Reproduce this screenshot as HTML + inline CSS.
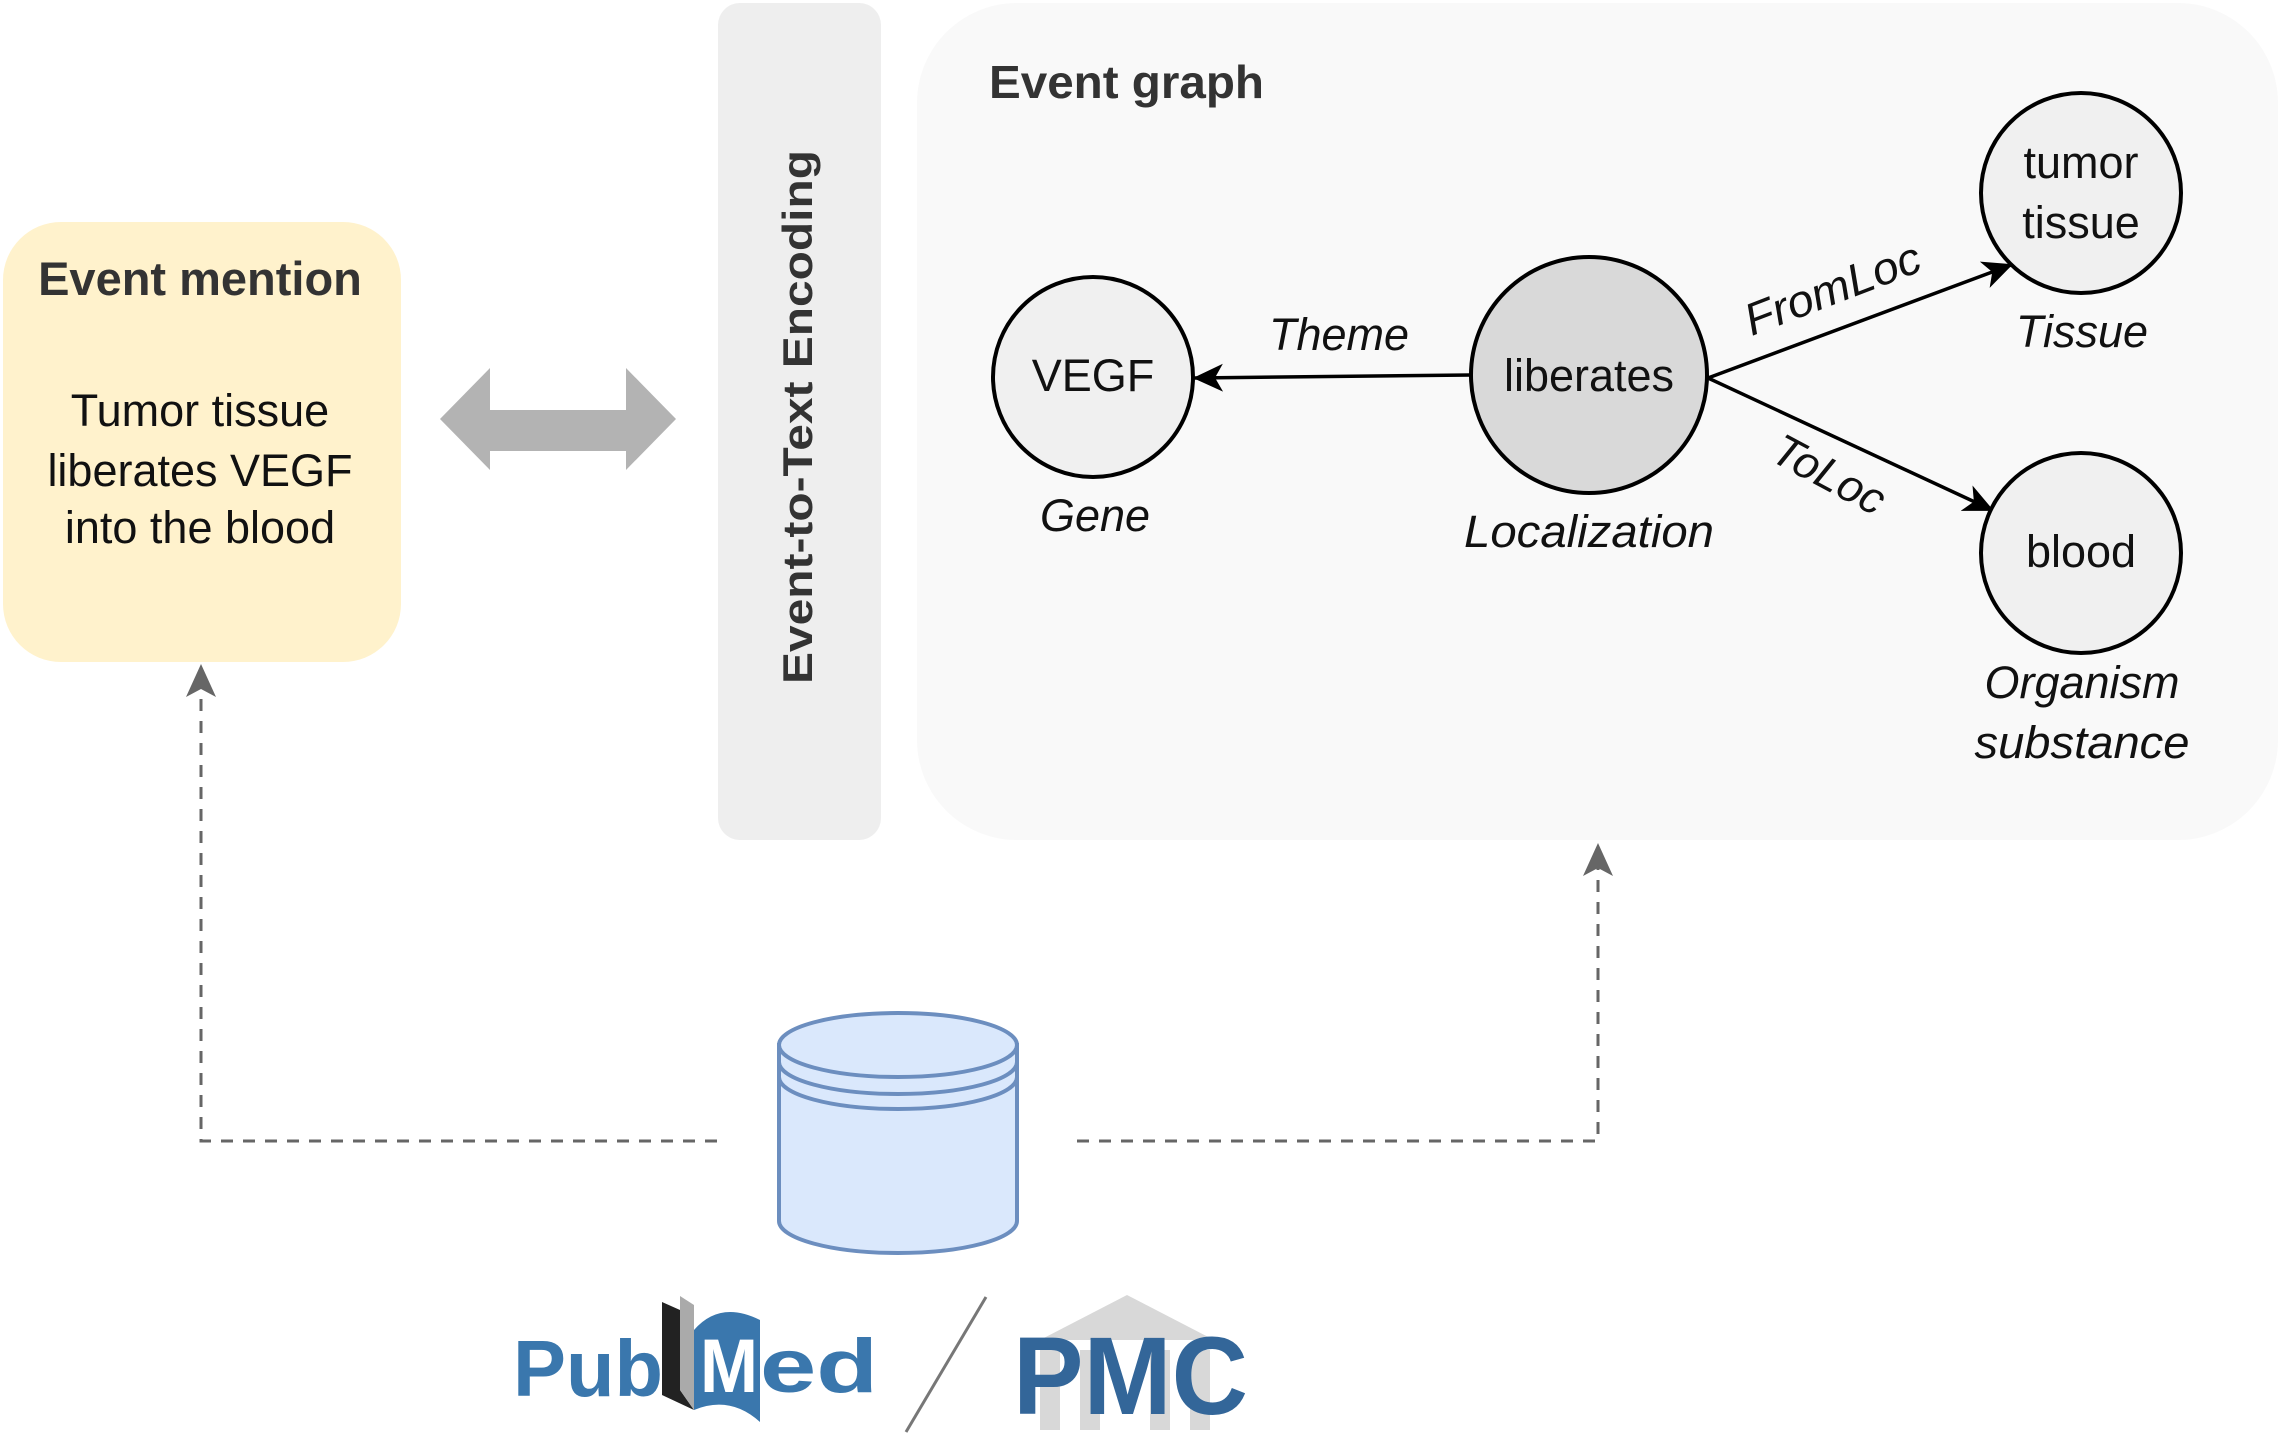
<!DOCTYPE html>
<html><head><meta charset="utf-8"><style>html,body{margin:0;padding:0;background:#fff}svg{display:block}</style></head>
<body>
<svg width="2280" height="1444" viewBox="0 0 2280 1444" xmlns="http://www.w3.org/2000/svg" font-family="Liberation Sans, Arial, sans-serif">
<defs>
<marker id="ah" markerWidth="30" markerHeight="28" refX="28" refY="14" orient="auto" markerUnits="userSpaceOnUse" viewBox="0 0 30 28"><path d="M0,0 L30,14 L0,28 L8,14 Z" fill="#000"/></marker>
</defs>
<rect x="3" y="222" width="398" height="440" rx="58" fill="#fff2cc"/>
<text x="200" y="295" font-size="47" font-weight="bold" fill="#333" text-anchor="middle">Event mention</text>
<text font-size="45" fill="#111" text-anchor="middle"><tspan x="200" y="426">Tumor tissue</tspan><tspan x="200" y="486">liberates VEGF</tspan><tspan x="200" y="543">into the blood</tspan></text>
<polygon points="440,419 490,368 490,410 626,410 626,368 676,419 626,470 626,451 490,451 490,470" fill="#b3b3b3"/>
<rect x="718" y="3" width="163" height="837" rx="22" fill="#eeeeee"/>
<text transform="translate(812,417) rotate(-90)" font-size="42" font-weight="bold" fill="#333" text-anchor="middle" textLength="534" lengthAdjust="spacingAndGlyphs">Event-to-Text Encoding</text>
<rect x="917" y="3" width="1361" height="837" rx="100" fill="#f9f9f9"/>
<text x="989" y="98" font-size="46" font-weight="bold" fill="#333" textLength="275" lengthAdjust="spacingAndGlyphs">Event graph</text>
<g stroke="#000" stroke-width="3.5" fill="none">
<line x1="1471" y1="375" x2="1195" y2="378" marker-end="url(#ah)"/>
<line x1="1708" y1="378" x2="2011" y2="265" marker-end="url(#ah)"/>
<line x1="1708" y1="378" x2="1992" y2="510" marker-end="url(#ah)"/>
</g>
<circle cx="1093" cy="377" r="100" fill="#f0f0f0" stroke="#000" stroke-width="4"/>
<circle cx="1589" cy="375" r="118" fill="#d9d9d9" stroke="#000" stroke-width="4"/>
<circle cx="2081" cy="193" r="100" fill="#f0f0f0" stroke="#000" stroke-width="4"/>
<circle cx="2081" cy="553" r="100" fill="#f0f0f0" stroke="#000" stroke-width="4"/>
<g font-size="45" fill="#111" text-anchor="middle">
<text x="1093" y="391">VEGF</text>
<text x="1589" y="391">liberates</text>
<text x="2081" y="178">tumor</text>
<text x="2081" y="238">tissue</text>
<text x="2081" y="567">blood</text>
</g>
<g font-size="45" fill="#111" text-anchor="middle" font-style="italic">
<text x="1095" y="531">Gene</text>
<text x="1589" y="547" textLength="250" lengthAdjust="spacingAndGlyphs">Localization</text>
<text x="2082" y="347">Tissue</text>
<text x="2082" y="698">Organism</text>
<text x="2082" y="758" textLength="215" lengthAdjust="spacingAndGlyphs">substance</text>
<text x="1339" y="350">Theme</text>
<text transform="translate(1838,303) rotate(-21)" textLength="185" lengthAdjust="spacingAndGlyphs">FromLoc</text>
<text transform="translate(1822,488) rotate(28)">ToLoc</text>
</g>
<g stroke="#666" stroke-width="3" fill="none" stroke-dasharray="12,10">
<polyline points="717,1141 201,1141 201,690"/>
<polyline points="1077,1141 1598,1141 1598,868"/>
</g>
<polygon points="201,664 186,697 201,689 216,697" fill="#666"/>
<polygon points="1598,843 1583,876 1598,868 1613,876" fill="#666"/>
<g stroke="#6c8ebf" stroke-width="4" fill="#dae8fc">
<path d="M779,1045 L779,1221 A119,32 0 0 0 1017,1221 L1017,1045 Z"/>
<ellipse cx="898" cy="1045" rx="119" ry="32"/>
<path d="M779,1062 A119,32 0 0 0 1017,1062" fill="none"/>
<path d="M779,1077 A119,32 0 0 0 1017,1077" fill="none"/>
</g>
<text x="513" y="1396" font-size="80" font-weight="bold" fill="#3a77ad" textLength="150" lengthAdjust="spacingAndGlyphs">Pub</text>
<path d="M662,1302 L680,1310 L680,1390 L694,1410 L662,1395 Z" fill="#222"/>
<path d="M680,1296 L694,1305 L694,1410 L680,1390 Z" fill="#aaa"/>
<path d="M694,1330 Q720,1300 760,1320 L760,1422 Q730,1395 694,1410 Z" fill="#3a77ad"/>
<text x="700" y="1392" font-size="76" font-weight="bold" fill="#fff" textLength="58" lengthAdjust="spacingAndGlyphs">M</text>
<text x="760" y="1392" font-size="76" font-weight="bold" fill="#3a77ad" textLength="118" lengthAdjust="spacingAndGlyphs">ed</text>
<line x1="986" y1="1297" x2="906" y2="1432" stroke="#777" stroke-width="3"/>
<path d="M1040,1340 L1127,1295 L1214,1340 Z" fill="#d8d8d8"/>
<g fill="#d8d8d8"><rect x="1040" y="1350" width="20" height="80"/><rect x="1080" y="1350" width="20" height="80"/><rect x="1150" y="1350" width="20" height="80"/><rect x="1190" y="1350" width="20" height="80"/></g>
<text x="1013" y="1414" font-size="110" font-weight="bold" fill="#336699" textLength="235" lengthAdjust="spacingAndGlyphs">PMC</text>
</svg>
</body></html>
